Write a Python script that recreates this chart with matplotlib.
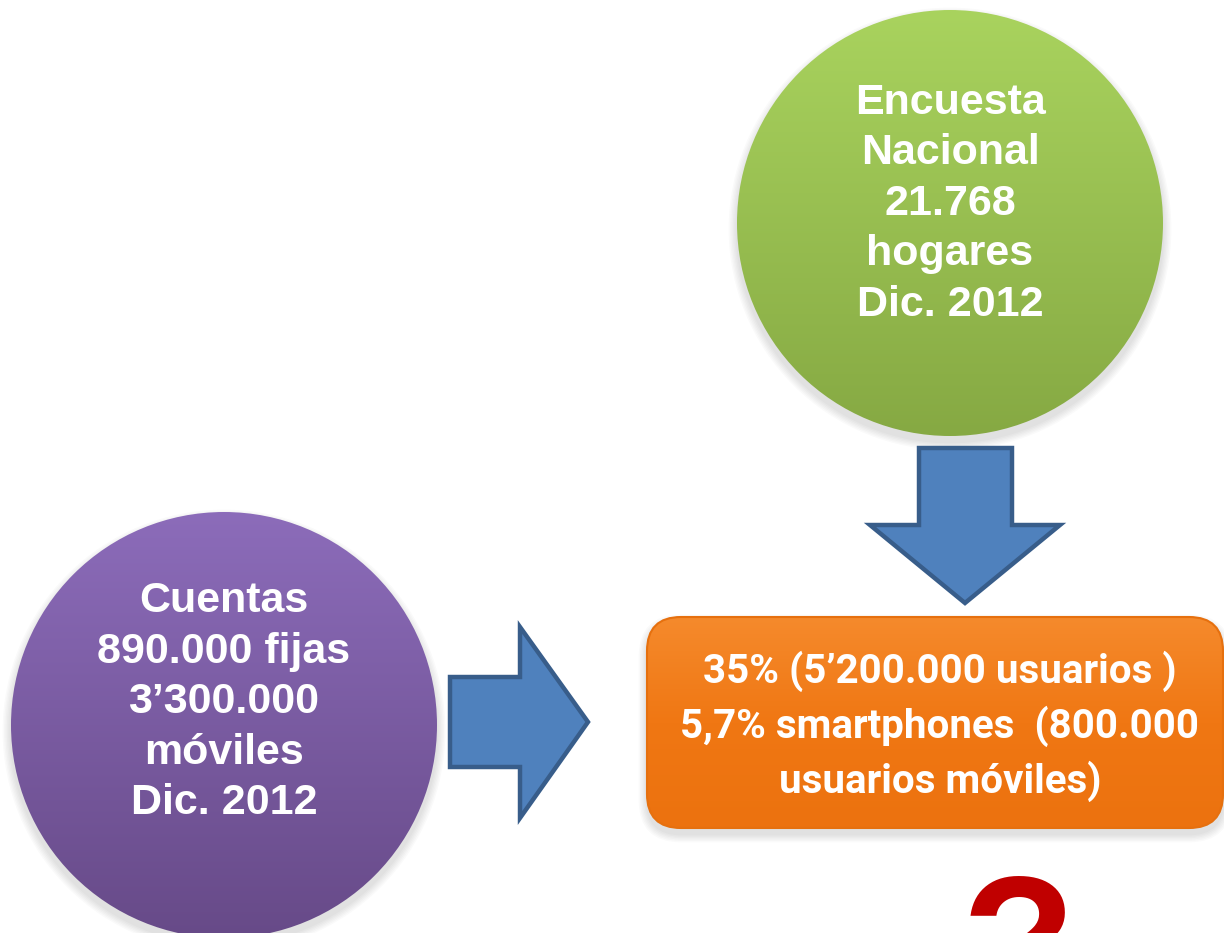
import numpy as np
import matplotlib
matplotlib.use('Agg')
from matplotlib import pyplot as plt
from matplotlib.patches import Circle, FancyBboxPatch, Polygon
from matplotlib.colors import LinearSegmentedColormap

# Diagram content
green_lines = ['Encuesta', 'Nacional', '21.768', 'hogares', 'Dic. 2012']
purple_lines = ['Cuentas', '890.000 fijas', '3\u2019300.000', 'm\u00f3viles', 'Dic. 2012']
orange_lines = ['35% (5\u2019200.000 usuarios )',
                '5,7% smartphones  (800.000',
                'usuarios m\u00f3viles)']
question_mark = '?'

W, H = 1224, 933

fig = plt.figure(figsize=(W / 100, H / 100), dpi=100)
ax = fig.add_axes([0, 0, 1, 1])


def soft_shadow(patch_fn, n=6, spread=1.4, dy=6):
    for i in range(n, 0, -1):
        p = patch_fn(i * spread, dy)
        p.set_facecolor('black')
        p.set_edgecolor('none')
        p.set_alpha(0.02)
        ax.add_patch(p)


def gradient_circle(cx, cy, r, top, bottom):
    soft_shadow(lambda g, dy: Circle((cx, cy + dy), r + g))
    circ = Circle((cx, cy), r, facecolor='none', edgecolor='none')
    ax.add_patch(circ)
    cmap = LinearSegmentedColormap.from_list('g', [top, bottom])
    grad = np.linspace(0, 1, 256).reshape(-1, 1)
    im = ax.imshow(grad, cmap=cmap, aspect='auto', origin='upper',
                   extent=(cx - r, cx + r, cy + r, cy - r), zorder=2)
    im.set_clip_path(circ)


def draw_lines(lines, cx, cy, size, spacing, family):
    n = len(lines)
    for i, s in enumerate(lines):
        y = cy + (i - (n - 1) / 2) * spacing
        ax.text(cx, y, s, ha='center', va='center', color='white',
                fontsize=size, fontweight='bold', family=family, zorder=5)


bold_family = ['Liberation Sans', 'DejaVu Sans']
narrow_family = ['Roboto', 'Liberation Sans', 'DejaVu Sans']

# green circle
gradient_circle(950, 223, 213, '#A9D35E', '#86A943')
draw_lines(green_lines, 950, 204, 31, 50.5, bold_family)

# purple circle
gradient_circle(224, 725, 213, '#8C6CBA', '#674A88')
draw_lines(purple_lines, 224, 702, 31, 50.5, bold_family)

# arrows
blue_fill = '#4F81BD'
blue_edge = '#385D8A'
down_arrow = [(919, 448), (1012, 448), (1012, 525), (1060, 525),
              (965, 603), (870, 525), (919, 525)]
right_arrow = [(450, 677), (520, 677), (520, 627), (588, 722),
               (520, 818), (520, 767), (450, 767)]
for pts in (down_arrow, right_arrow):
    ax.add_patch(Polygon(pts, closed=True, facecolor=blue_fill,
                         edgecolor=blue_edge, linewidth=3.2,
                         joinstyle='miter', zorder=3))

# orange box
bx, by, bw, bh = 647, 617, 576, 211
soft_shadow(lambda g, dy: FancyBboxPatch(
    (bx - g, by - g + dy), bw + 2 * g, bh + 2 * g,
    boxstyle='round,pad=0,rounding_size=%f' % (34 + g)))
box = FancyBboxPatch((bx, by), bw, bh,
                     boxstyle='round,pad=0,rounding_size=34',
                     facecolor='none', edgecolor='#E6700E', linewidth=1.5,
                     zorder=4)
ax.add_patch(box)
cmap_o = LinearSegmentedColormap.from_list('o', ['#F58A2C', '#F07713',
                                                 '#EC720F'])
grad = np.linspace(0, 1, 256).reshape(-1, 1)
im = ax.imshow(grad, cmap=cmap_o, aspect='auto', origin='upper',
               extent=(bx, bx + bw, by + bh, by), zorder=3)
im.set_clip_path(box)
draw_lines(orange_lines, 940, 726, 29, 55, narrow_family)

# red question mark (cut by the bottom edge)
ax.text(1018, 1006, question_mark, ha='center', va='baseline',
        color='#C00000', fontsize=134, fontweight='bold',
        family=bold_family, zorder=5)

ax.set_xlim(0, W)
ax.set_ylim(H, 0)
ax.axis('off')

fig.savefig('out.png', dpi=100, facecolor='white')
